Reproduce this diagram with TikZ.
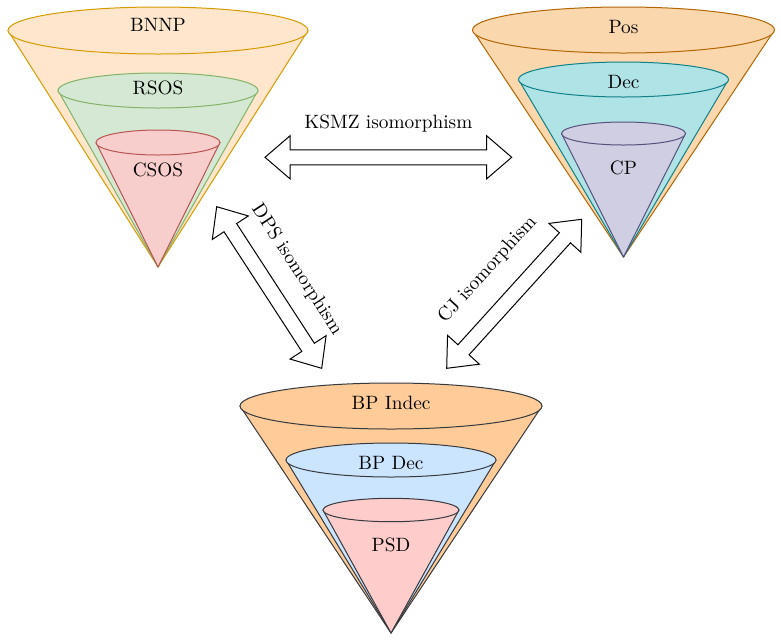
\documentclass[tikz,border=0pt]{standalone}
\usetikzlibrary{calc}
\definecolor{bnnpF}{HTML}{FFE6CC}\definecolor{bnnpD}{HTML}{D79B00}
\definecolor{rsosF}{HTML}{D5E8D4}\definecolor{rsosD}{HTML}{82B366}
\definecolor{csosF}{HTML}{F8CECC}\definecolor{csosD}{HTML}{B85450}
\definecolor{posF}{HTML}{FAD7AC}\definecolor{posD}{HTML}{B46504}
\definecolor{decF}{HTML}{B0E3E6}\definecolor{decD}{HTML}{0E8088}
\definecolor{cpF}{HTML}{D0CEE2}\definecolor{cpD}{HTML}{56517E}
\definecolor{indF}{HTML}{FFCC99}\definecolor{grayD}{HTML}{36393D}
\definecolor{bpdF}{HTML}{CCE5FF}\definecolor{psdF}{HTML}{FFCCCC}
% cone: cx, cy, rx, ry, tip y, fill, draw
\newcommand\conepart[7]{%
  \filldraw[fill=#6,draw=#7,line width=1pt,line join=round] (#1-#3,#2) -- (#1,#5) -- (#1+#3,#2) -- cycle;
  \filldraw[fill=#6,draw=#7,line width=1pt] (#1,#2) ellipse [x radius=#3, y radius=#4];
}
% block double arrow between two named coordinates
\newcommand\blockdbl[2]{%
  \coordinate (ha) at ($(#1)!25pt!(#2)$);
  \coordinate (hb) at ($(#2)!25pt!(#1)$);
  \draw[blockarrow] (#1)
    -- ($(ha)!21.5pt!90:(#2)$) -- ($(ha)!7.5pt!90:(#2)$)
    -- ($(hb)!7.5pt!-90:(#1)$) -- ($(hb)!21.5pt!-90:(#1)$)
    -- (#2)
    -- ($(hb)!21.5pt!90:(#1)$) -- ($(hb)!7.5pt!90:(#1)$)
    -- ($(ha)!7.5pt!-90:(#2)$) -- ($(ha)!21.5pt!-90:(#2)$)
    -- cycle;
}
\tikzset{
  blockarrow/.style={draw=black,fill=white,line width=1pt,line join=miter},
  lbl/.style={font=\normalsize,scale=1.93,inner sep=0pt,anchor=center},
}
\begin{document}
\begin{tikzpicture}[x=1pt,y=-1pt]
\useasboundingbox (0,0) rectangle (781,641);
% BNNP cone
\conepart{158}{30.5}{150}{23.5}{267}{bnnpF}{bnnpD}
\conepart{158}{90.5}{100}{17.5}{267}{rsosF}{rsosD}
\conepart{158}{142.5}{62}{12.5}{267}{csosF}{csosD}
\node[lbl] (bnnp) at (158,25) {BNNP};
\node[lbl] (rsos) at (158,88) {RSOS};
\node[lbl] (csos) at (158,170) {CSOS};
% Pos cone
\conepart{623.5}{30}{151}{23}{257}{posF}{posD}
\conepart{623.5}{79.5}{105}{17.5}{257}{decF}{decD}
\conepart{623.5}{133.5}{62}{11.5}{257}{cpF}{cpD}
\node[lbl] (pos) at (623.5,27) {Pos};
\node[lbl] (dec) at (623.5,82) {Dec};
\node[lbl] (cp) at (623.5,168) {CP};
% BP Indec cone
\conepart{391}{406}{151}{23}{633}{indF}{grayD}
\conepart{391}{460}{105}{17}{633}{bpdF}{grayD}
\conepart{391}{510}{68}{11.7}{633}{psdF}{grayD}
\node[lbl] (bpi) at (391,403) {BP Indec};
\node[lbl] (bpd) at (391,463) {BP Dec};
\node[lbl] (psd) at (391,545) {PSD};
% arrows
\coordinate (k1) at (265,157.3);
\coordinate (k2) at (511.7,157.3);
\coordinate (d1) at (216.7,206.7);
\coordinate (d2) at (321.7,368.3);
\coordinate (c1) at (446.7,368.3);
\coordinate (c2) at (581.7,219.3);
\blockdbl{k1}{k2}
\blockdbl{d1}{d2}
\blockdbl{c1}{c2}
\node[lbl] (ksmz) at ($($(k1)!0.5!(k2)$)!34pt!90:(k2)$) {KSMZ isomorphism};
\node[lbl,rotate=-57] (dps) at ($($(d1)!0.5!(d2)$)!33pt!90:(d2)$) {DPS isomorphism};
\node[lbl,rotate=47.8] (cj) at ($($(c1)!0.5!(c2)$)!36pt!90:(c2)$) {CJ isomorphism};
\end{tikzpicture}
\end{document}
